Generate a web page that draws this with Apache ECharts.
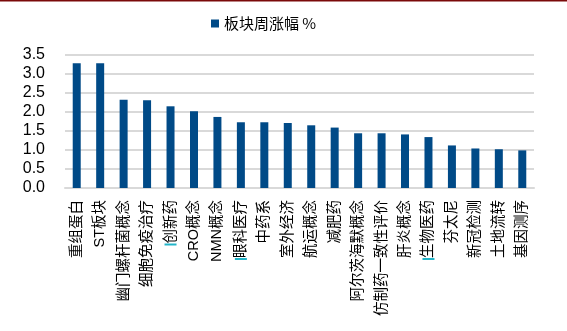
<!DOCTYPE html>
<html>
<head>
<meta charset="utf-8">
<script src="https://cdn.jsdelivr.net/npm/echarts@6/dist/echarts.min.js"></script>
<style>
html,body{margin:0;padding:0;background:#fff;}
#chart{width:567px;height:331px;}
</style>
</head>
<body>
<div id="chart"></div>
<script>
const categories = ['重组蛋白','ST板块','幽门螺杆菌概念','细胞免疫治疗','创新药','CRO概念','NMN概念','眼科医疗','中药系','室外经济','航运概念','减肥药','阿尔茨海默概念','仿制药一致性评价','肝炎概念','生物医药','芬太尼','新冠检测','土地流转','基因测序'];
const values = [3.28,3.28,2.32,2.31,2.15,2.02,1.87,1.73,1.73,1.71,1.65,1.59,1.44,1.44,1.41,1.34,1.12,1.04,1.02,0.99];
const markedCategories = ['创新药','眼科医疗','生物医药'];
const seriesName = '板块周涨幅 %';
const yTicks = { min: 0, max: 3.5, interval: 0.5 };

const chart = echarts.init(document.getElementById('chart'));
chart.setOption({
  animation: false,
  backgroundColor: '#fff',
  graphic: [{ type: 'rect', shape: { x: 0, y: 0, width: 567, height: 1.5 }, style: { fill: '#7b0a0a' } }],
  legend: {
    data: [seriesName],
    top: 11,
    left: 206,
    itemWidth: 8, itemHeight: 8, itemGap: 4,
    icon: 'rect',
    textStyle: { fontFamily: 'Noto Sans CJK SC', fontSize: 15, color: '#000' }
  },
  grid: { left: 65, right: 33, top: 55, bottom: 143 },
  xAxis: {
    type: 'category',
    data: categories,
    axisLine: { show: true, lineStyle: { color: '#d9d9d9', width: 2 } },
    axisTick: { show: false },
    axisLabel: {
      interval: 0,
      rotate: 90,
      margin: 12,
      fontFamily: 'Liberation Sans, Noto Sans CJK SC',
      fontSize: 14.5,
      color: '#000',
      formatter: v => markedCategories.includes(v) ? '{m| }' + v : v,
      rich: { m: { width: 2, height: 12, backgroundColor: '#22b4c8' } }
    }
  },
  yAxis: {
    type: 'value',
    min: yTicks.min, max: yTicks.max, interval: yTicks.interval,
    axisLine: { show: false },
    axisTick: { show: false },
    splitLine: { lineStyle: { color: '#d9d9d9', width: 2 } },
    axisLabel: {
      margin: 20,
      fontFamily: 'Liberation Sans',
      fontSize: 16,
      color: '#000',
      formatter: v => v.toFixed(1)
    }
  },
  series: [{
    name: seriesName,
    type: 'bar',
    data: values,
    barWidth: 8,
    itemStyle: { color: '#004a87' }
  }]
});
</script>
</body>
</html>
